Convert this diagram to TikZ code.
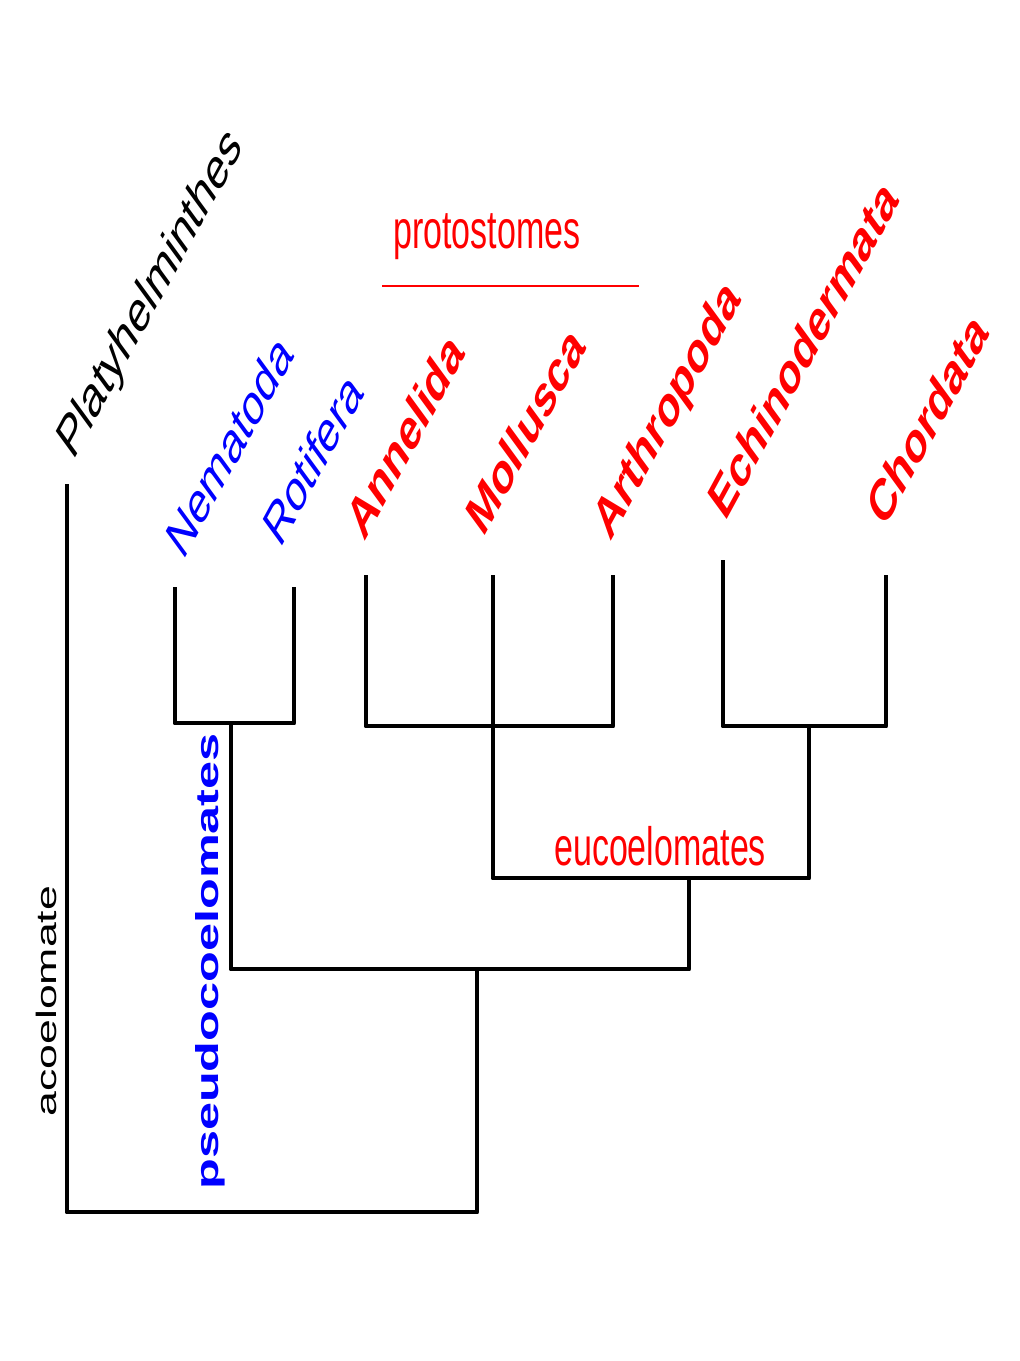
\documentclass[tikz,border=0pt]{standalone}
\usepackage{fontspec}
\setmainfont{Liberation Sans}
\begin{document}
\begin{tikzpicture}[x=0.75pt,y=0.75pt,
  branch/.style={line width=3.7pt, line join=round, black},
  skewdiag/.style={xscale=0.63, rotate=49.2},
  skewvert/.style={xscale=0.63, rotate=90},
  skewhor/.style={xscale=0.63},
  lab/.style={transform shape, anchor=base west, inner sep=0pt},
  diagfont/.style={font=\fontsize{44}{50}\selectfont},
  diagbold/.style={font=\fontsize{44}{50}\selectfont\bfseries}]
\useasboundingbox (0,0) rectangle (1020,-1361);
% tips
\coordinate (plat) at (67,-484);
\coordinate (nem) at (175,-587);
\coordinate (rot) at (294,-587);
\coordinate (ann) at (366,-575);
\coordinate (mol) at (493,-575);
\coordinate (art) at (613,-575);
\coordinate (ech) at (723,-560);
\coordinate (cho) at (886,-575);
% internal nodes
\coordinate (nrn) at (231,-723);
\coordinate (pro) at (493,-726);
\coordinate (deu) at (809,-726);
\coordinate (euc) at (689,-878);
\coordinate (bil) at (477,-969);
\coordinate (root) at (477,-1212);
% branches
\draw[branch] (nem) -- (nem |- nrn) -- (rot |- nrn) -- (rot);
\draw[branch] (ann) -- (ann |- pro) -- (art |- pro) -- (art);
\draw[branch] (mol) -- (mol |- euc) -- (deu |- euc) -- (deu);
\draw[branch] (ech) -- (ech |- deu) -- (cho |- deu) -- (cho);
\draw[branch] (nrn) -- (nrn |- bil) -- (euc |- bil) -- (euc);
\draw[branch] (plat) -- (plat |- root) -- (root) -- (bil);
% protostomes bar
\coordinate (pbarl) at (382,-286);
\coordinate (pbarr) at (639,-286);
\draw[red, line width=1.5pt] (pbarl) -- (pbarr);
% diagonal labels
\begin{scope}[shift={(73,-462)}, skewdiag]
  \node[lab, diagfont] (lplat) at (0,0) {Platyhelminthes};
\end{scope}
\begin{scope}[shift={(183,-562)}, skewdiag]
  \node[lab, diagfont, blue] (lnem) at (0,0) {Nematoda};
\end{scope}
\begin{scope}[shift={(280,-550)}, skewdiag]
  \node[lab, diagfont, blue] (lrot) at (0,0) {Rotifera};
\end{scope}
\begin{scope}[shift={(364,-543)}, skewdiag]
  \node[lab, diagbold, red] (lann) at (0,0) {Annelida};
\end{scope}
\begin{scope}[shift={(483,-539)}, skewdiag]
  \node[lab, diagbold, red] (lmol) at (0,0) {Mollusca};
\end{scope}
\begin{scope}[shift={(610,-543)}, skewdiag]
  \node[lab, diagbold, red] (lart) at (0,0) {Arthropoda};
\end{scope}
\begin{scope}[shift={(725,-523)}, skewdiag]
  \node[lab, diagbold, red] (lech) at (0,0) {Echinodermata};
\end{scope}
\begin{scope}[shift={(884,-530)}, skewdiag]
  \node[lab, diagbold, red] (lcho) at (0,0) {Chordata};
\end{scope}
% horizontal labels
\begin{scope}[shift={(393,-248)}, skewhor]
  \node[lab, red, font=\fontsize{40.5}{48}\selectfont] (lproto) at (0,0) {protostomes};
\end{scope}
\begin{scope}[shift={(554,-865)}, skewhor]
  \node[lab, red, font=\fontsize{40.5}{48}\selectfont] (leuc) at (0,0) {eucoelomates};
\end{scope}
% vertical labels
\begin{scope}[shift={(56,-1117)}, skewvert]
  \node[lab, font=\fontsize{33.5}{40}\selectfont] (laco) at (0,0) {acoelomate};
\end{scope}
\begin{scope}[shift={(218,-1190)}, skewvert]
  \node[lab, blue, font=\fontsize{37.8}{44}\selectfont\bfseries] (lpse) at (0,0) {pseudocoelomates};
\end{scope}
\end{tikzpicture}
\end{document}
